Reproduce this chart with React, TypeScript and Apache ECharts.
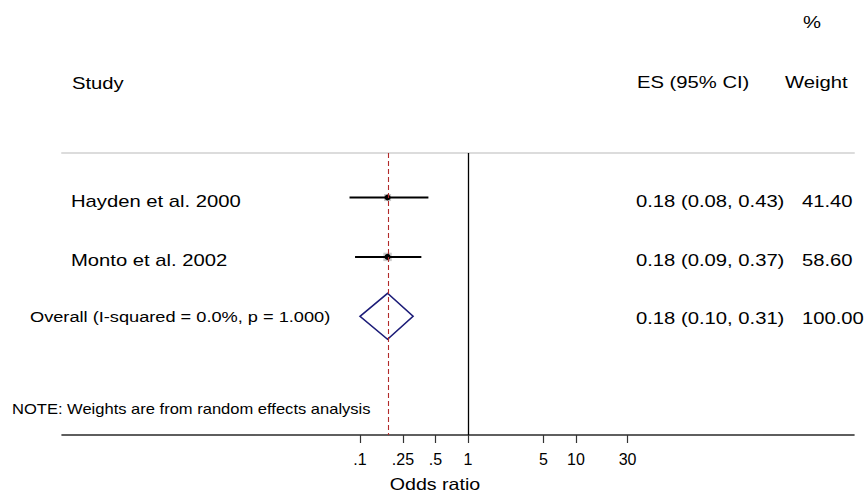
import React, { useEffect, useRef } from "react";
import * as echarts from "echarts";

// ---- data ----
const studies = ["Hayden et al. 2000", "Monto et al. 2002"];
const studyES = [0.18, 0.18];
const studyLo = [0.08, 0.09];
const studyHi = [0.43, 0.37];
const studyWeight = [41.4, 58.6];

const overallLabel = "Overall (I-squared = 0.0%, p = 1.000)";
const overallES = [0.18];
const overallLo = [0.1];
const overallHi = [0.31];
const overallWeight = [100.0];

const xTicks = [0.1, 0.25, 0.5, 1, 5, 10, 30];
const xTickLabels = [".1", ".25", ".5", "1", "5", "10", "30"];
const nullValue = 1;

const FONT = "'Liberation Sans', Arial, Helvetica, sans-serif";
const SX = 1.19;

function txt(x: number, y: number, text: string, size: number, align = "left") {
  return {
    type: "text",
    x,
    y,
    scaleX: SX,
    silent: true,
    style: {
      text,
      fontSize: size,
      fontFamily: FONT,
      fill: "#000",
      align,
      verticalAlign: "middle",
      textAlign: align,
      textVerticalAlign: "middle",
    },
  };
}

const ci = (e: number, l: number, h: number) =>
  `${e.toFixed(2)} (${l.toFixed(2)}, ${h.toFixed(2)})`;

export default function App() {
  const ref = useRef<HTMLDivElement>(null);
  useEffect(() => {
    document.body.style.margin = "0";
    if (!ref.current) return;
    const chart = echarts.init(ref.current, undefined, { renderer: "svg" });
    const logTicks = xTicks.map((t) => Math.log10(t));
    const xMin = -3.759;
    const xMax = 3.574;

    const studyData = studies.map((s, i) => [
      i + 1,
      Math.log10(studyES[i]),
      Math.log10(studyLo[i]),
      Math.log10(studyHi[i]),
      studyWeight[i],
    ]);
    const overallData = overallES.map((e, i) => [
      studies.length + 1,
      Math.log10(e),
      Math.log10(overallLo[i]),
      Math.log10(overallHi[i]),
      overallWeight[i],
    ]);

    const option: any = {
      animation: false,
      backgroundColor: "#fff",
      grid: { left: 62, right: 13, top: 153, bottom: 61 },
      xAxis: [
        {
          type: "value",
          min: xMin,
          max: xMax,
          position: "bottom",
          axisLine: { show: true, lineStyle: { color: "#2a2a2a", width: 1.6 } },
          axisTick: {
            show: true,
            customValues: logTicks,
            length: 8,
            lineStyle: { color: "#333", width: 1.2 },
          },
          axisLabel: {
            show: true,
            customValues: logTicks,
            margin: 16,
            fontSize: 16,
            fontFamily: FONT,
            color: "#000",
            formatter: (v: number) => {
              const idx = logTicks.findIndex((t) => Math.abs(t - v) < 1e-6);
              return idx >= 0 ? xTickLabels[idx] : "";
            },
          },
          splitLine: { show: false },
        },
        {
          type: "value",
          min: xMin,
          max: xMax,
          position: "top",
          axisLine: { show: true, lineStyle: { color: "#dcdcdc", width: 2 } },
          axisTick: { show: false },
          axisLabel: { show: false },
          splitLine: { show: false },
        },
      ],
      yAxis: {
        type: "value",
        inverse: true,
        min: 0.25,
        max: 5,
        show: false,
        splitLine: { show: false },
      },
      series: [
        {
          type: "line",
          data: [],
          silent: true,
          markLine: {
            silent: true,
            symbol: ["none", "none"],
            label: { show: false },
            data: [
              { xAxis: Math.log10(nullValue), lineStyle: { color: "#000", width: 1.3, type: "solid" } },
              {
                xAxis: Math.log10(overallES[0]),
                lineStyle: { color: "#b22a2a", width: 1.1, type: [5, 3] },
              },
            ],
          },
        },
        {
          type: "custom",
          data: studyData,
          silent: true,
          renderItem: (params: any, api: any) => {
            const i = params.dataIndex;
            const row = api.value(0);
            const c = api.coord([api.value(1), row]);
            const l = api.coord([api.value(2), row]);
            const h = api.coord([api.value(3), row]);
            const box = Math.sqrt(api.value(4)) * 1.1;
            return {
              type: "group",
              children: [
                {
                  type: "rect",
                  shape: { x: c[0] - box / 2, y: c[1] - box / 2, width: box, height: box },
                  style: { fill: "#cccccc" },
                },
                {
                  type: "line",
                  shape: { x1: l[0], y1: l[1], x2: h[0], y2: h[1] },
                  style: { stroke: "#000", lineWidth: 2 },
                },
                { type: "circle", shape: { cx: c[0], cy: c[1], r: 3 }, style: { fill: "#000" } },
                txt(71, c[1] + 3.5, studies[i], 17),
                txt(636, c[1] + 3.5, ci(studyES[i], studyLo[i], studyHi[i]), 17),
                txt(802, c[1] + 3.5, studyWeight[i].toFixed(2), 17),
              ],
            };
          },
        },
        {
          type: "custom",
          data: overallData,
          silent: true,
          renderItem: (params: any, api: any) => {
            const i = params.dataIndex;
            const row = api.value(0);
            const c = api.coord([api.value(1), row]);
            const l = api.coord([api.value(2), row]);
            const h = api.coord([api.value(3), row]);
            const hh = 23;
            return {
              type: "group",
              children: [
                {
                  type: "polygon",
                  shape: {
                    points: [
                      [l[0], c[1]],
                      [c[0], c[1] - hh],
                      [h[0], c[1]],
                      [c[0], c[1] + hh],
                    ],
                  },
                  style: { fill: "none", stroke: "#1c1c78", lineWidth: 1.6 },
                },
                txt(30, c[1] + 1, overallLabel, 15.3),
                txt(636, c[1] + 1.5, ci(overallES[i], overallLo[i], overallHi[i]), 17),
                txt(802, c[1] + 1.5, overallWeight[i].toFixed(2), 17),
              ],
            };
          },
        },
      ],
      graphic: [
        txt(72, 83, "Study", 17),
        txt(637, 82, "ES (95% CI)", 17),
        txt(785, 82, "Weight", 17),
        txt(803, 22, "%", 17),
        txt(12, 409, "NOTE: Weights are from random effects analysis", 13.9),
        txt(435, 485, "Odds ratio", 16.5, "center"),
      ],
    };
    chart.setOption(option);
    return () => chart.dispose();
  }, []);
  return <div ref={ref} style={{ width: 867, height: 496 }} />;
}
